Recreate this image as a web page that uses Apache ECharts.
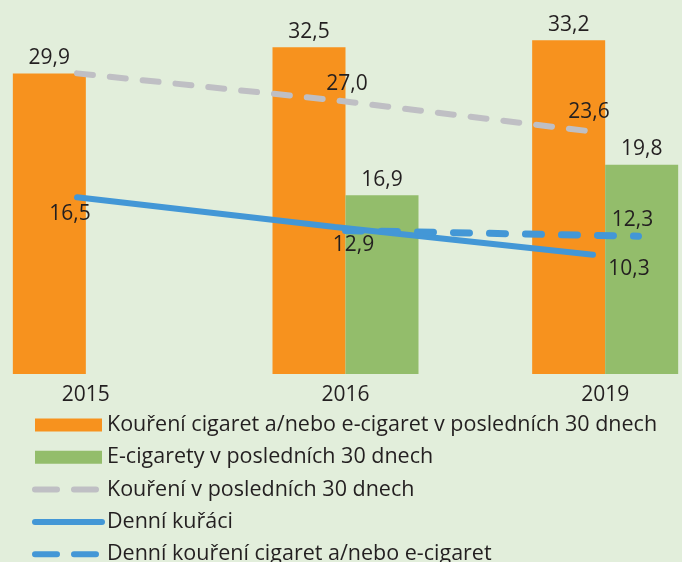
<!DOCTYPE html>
<html>
<head>
<meta charset="utf-8">
<script src="https://cdn.jsdelivr.net/npm/echarts@6/dist/echarts.min.js"></script>
<style>
  html, body { margin: 0; padding: 0; background: #e2eedb; }
  #chart { width: 682px; height: 562px; }
</style>
</head>
<body>
<div id="chart"></div>
<script>
// data
const years = ['2015', '2016', '2019'];
const smokingAny30 = [29.9, 32.5, 33.2];      // Kouření cigaret a/nebo e-cigaret v posledních 30 dnech
const ecig30 = [null, 16.9, 19.8];            // E-cigarety v posledních 30 dnech
const smoking30 = [29.9, 27.0, 23.6];         // Kouření v posledních 30 dnech
const dailySmokers = [16.5, 13.3, 10.3];      // Denní kuřáci
const dailyAny = [null, 12.9, 12.3];          // Denní kouření cigaret a/nebo e-cigaret

const names = [
  'Kouření cigaret a/nebo e-cigaret v posledních 30 dnech',
  'E-cigarety v posledních 30 dnech',
  'Kouření v posledních 30 dnech',
  'Denní kuřáci',
  'Denní kouření cigaret a/nebo e-cigaret'
];

const FONT = '"Open Sans", sans-serif';
const TXT = '#231f20';
const fmt = p => p.value == null ? '' : Number(p.value).toFixed(1).replace('.', ',');

// per-point label placement (hidden where the original shows none)
function withLabels(values, opts) {
  return values.map((v, i) => {
    const o = opts[i];
    if (!o) return { value: v, label: { show: false } };
    return { value: v, label: { show: true, position: o[0], offset: o[1] } };
  });
}

const chart = echarts.init(document.getElementById('chart'), null, { renderer: 'canvas' });

const labelBase = { show: true, color: TXT, fontSize: 21, fontFamily: FONT, formatter: fmt, distance: 5 };
// line series keep a transparent symbol so that their labels are drawn
const hiddenSymbol = { symbol: 'circle', symbolSize: 2, showSymbol: true };
const clear = 'rgba(0,0,0,0)';

chart.setOption({
  animation: false,
  backgroundColor: '#e2eedb',
  textStyle: { fontFamily: FONT },
  grid: [
    { left: -44, top: 4, width: 779, height: 370, outerBoundsMode: 'none' },   // bars
    { left: -52, top: 4, width: 774, height: 370, outerBoundsMode: 'none' },   // grey + solid blue
    { left: -94, top: 4, width: 879, height: 370, outerBoundsMode: 'none' }    // dashed blue
  ],
  xAxis: [
    {
      gridIndex: 0, type: 'category', data: years,
      axisLine: { show: false }, axisTick: { show: false },
      axisLabel: { color: TXT, fontSize: 21, fontFamily: FONT, margin: 11 }
    },
    { gridIndex: 1, type: 'category', data: years, show: false },
    { gridIndex: 2, type: 'category', data: years, show: false }
  ],
  yAxis: [
    { gridIndex: 0, type: 'value', min: 0, max: 36.8, show: false },
    { gridIndex: 0, type: 'value', min: 0, max: 35, show: false },
    { gridIndex: 1, type: 'value', min: -2.6, max: 37.4, show: false },
    { gridIndex: 2, type: 'value', min: -2.6, max: 37.4, show: false }
  ],
  legend: {
    orient: 'vertical',
    left: 32,
    top: 414,
    height: 300,
    padding: 0,
    itemWidth: 67,
    itemHeight: 13,
    itemGap: 10.3,
    textStyle: { color: TXT, fontSize: 21.5, fontFamily: FONT, lineHeight: 22 },
    data: [
      { name: names[0], icon: 'rect' },
      { name: names[1], icon: 'rect' },
      { name: names[2], itemStyle: { opacity: 0 }, lineStyle: { color: '#bfbfc4', type: [22, 17], width: 6, cap: 'round' } },
      { name: names[3], itemStyle: { opacity: 0 }, lineStyle: { color: '#4397d6', width: 6, cap: 'round' } },
      { name: names[4], itemStyle: { opacity: 0 }, lineStyle: { color: '#4397d6', type: [22, 17], width: 6, cap: 'round' } }
    ]
  },
  series: [
    {
      name: names[0], type: 'bar', xAxisIndex: 0, yAxisIndex: 0,
      data: smokingAny30, barWidth: 73, barGap: '0%',
      itemStyle: { color: '#f7921e' },
      label: Object.assign({}, labelBase, { position: 'top' })
    },
    {
      name: names[1], type: 'bar', xAxisIndex: 0, yAxisIndex: 1,
      data: ecig30, barWidth: 73, barGap: '0%',
      itemStyle: { color: '#93bd6b' },
      label: Object.assign({}, labelBase, { position: 'top' })
    },
    Object.assign({
      name: names[2], type: 'line', xAxisIndex: 1, yAxisIndex: 2,
      data: withLabels(smoking30, [null, ['top', [12, 0]], ['top', [-4, -3]]]),
      z: 3,
      lineStyle: { color: '#bfbfc4', width: 6, type: [16, 17], cap: 'round' },
      itemStyle: { color: clear, borderWidth: 0 },
      label: labelBase
    }, hiddenSymbol),
    Object.assign({
      name: names[3], type: 'line', xAxisIndex: 1, yAxisIndex: 2,
      data: withLabels(dailySmokers, [['bottom', [-7, 0]], null, ['bottom', [36, -2]]]),
      z: 3,
      lineStyle: { color: '#4397d6', width: 6, cap: 'round' },
      itemStyle: { color: clear, borderWidth: 0 },
      label: labelBase
    }, hiddenSymbol),
    Object.assign({
      name: names[4], type: 'line', xAxisIndex: 2, yAxisIndex: 3,
      data: withLabels(dailyAny, [null, ['bottom', [8, -2]], ['top', [-6, 0]]]),
      z: 3,
      lineStyle: { color: '#4397d6', width: 7, type: [16, 20], cap: 'round' },
      itemStyle: { color: clear, borderWidth: 0 },
      label: labelBase
    }, hiddenSymbol)
  ]
});
</script>
</body>
</html>
